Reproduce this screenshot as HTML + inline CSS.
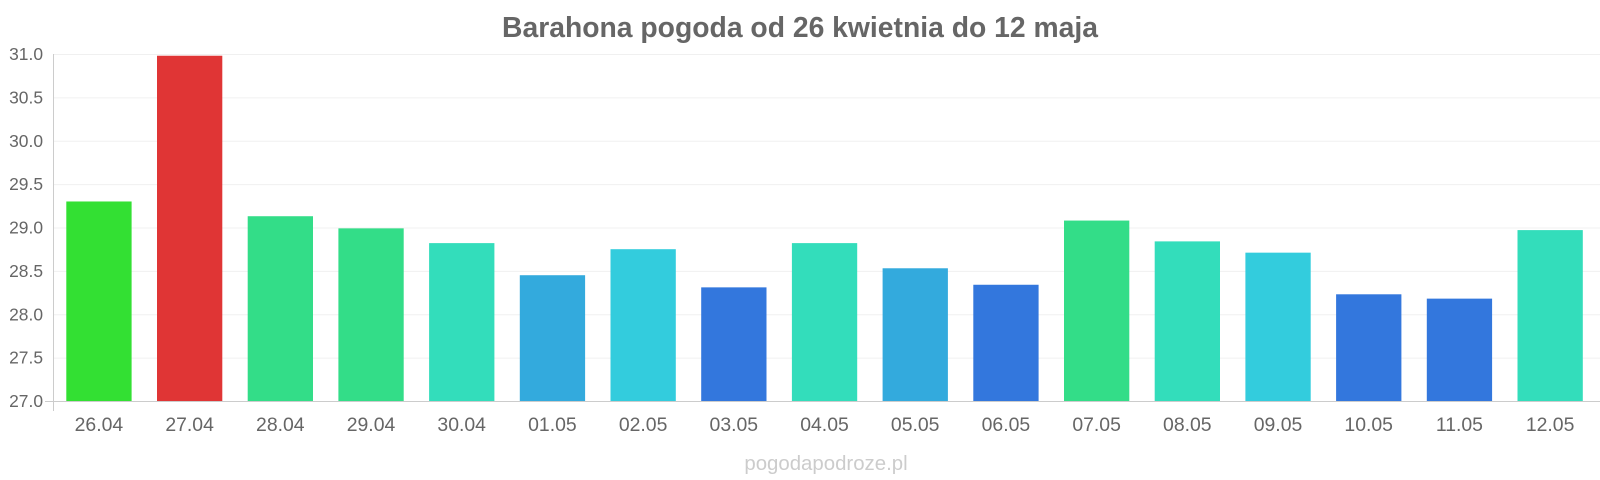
<!DOCTYPE html>
<html><head><meta charset="utf-8"><style>
html,body{margin:0;padding:0;background:#fff;}
svg{display:block;font-family:"Liberation Sans",sans-serif;}
</style></head><body>
<svg width="1600" height="480" xmlns="http://www.w3.org/2000/svg">
<text x="800" y="37" text-anchor="middle" font-size="28.3" font-weight="bold" fill="#666">Barahona pogoda od 26 kwietnia do 12 maja</text>
<g id="grid" stroke="#f0f0f0" stroke-width="1"></g>
<line x1="53.5" y1="54" x2="53.5" y2="411" stroke="#ccc"/>
<line x1="45" y1="401.5" x2="1600" y2="401.5" stroke="#ccc"/>
<g id="ticks" font-size="17.4" fill="#666" text-anchor="end"></g>
<g id="bars"></g>
<g id="labels" font-size="19.4" fill="#666" text-anchor="middle"></g>
<text x="826" y="470" text-anchor="middle" font-size="20.4" fill="#ccc">pogodapodroze.pl</text>
<script>
var ns="http://www.w3.org/2000/svg";
function el(n,a,p,t){var e=document.createElementNS(ns,n);for(var k in a)e.setAttribute(k,a[k]);if(t)e.textContent=t;document.getElementById(p).appendChild(e);}
var base=401,u=86.75;
for(var j=0;j<9;j++){var val=27+j*0.5,y=base-j*0.5*u;
 if(j>0)el("line",{x1:53,y1:y+0.5,x2:1600,y2:y+0.5},"grid");
 el("text",{x:43,y:y+6},"ticks",val.toFixed(1));}
var v=[29.3,30.98,29.13,28.99,28.82,28.45,28.75,28.31,28.82,28.53,28.34,29.08,28.84,28.71,28.23,28.18,28.97];
var c=["#33e033","#e03535","#33dd88","#33dd88","#33ddbb","#33aadd","#33ccdd","#3377dd","#33ddbb","#33aadd","#3377dd","#33dd88","#33ddbb","#33ccdd","#3377dd","#3377dd","#33ddbb"];
var l=["26.04","27.04","28.04","29.04","30.04","01.05","02.05","03.05","04.05","05.05","06.05","07.05","08.05","09.05","10.05","11.05","12.05"];
for(var i=0;i<17;i++){
 var x=66.3+i*90.7,y=base-(v[i]-27)*u;
 el("rect",{x:x,y:y,width:65.3,height:base-y,fill:c[i]},"bars");
 el("text",{x:x+32.6,y:431},"labels",l[i]);
}
</script>
</svg>
</body></html>
